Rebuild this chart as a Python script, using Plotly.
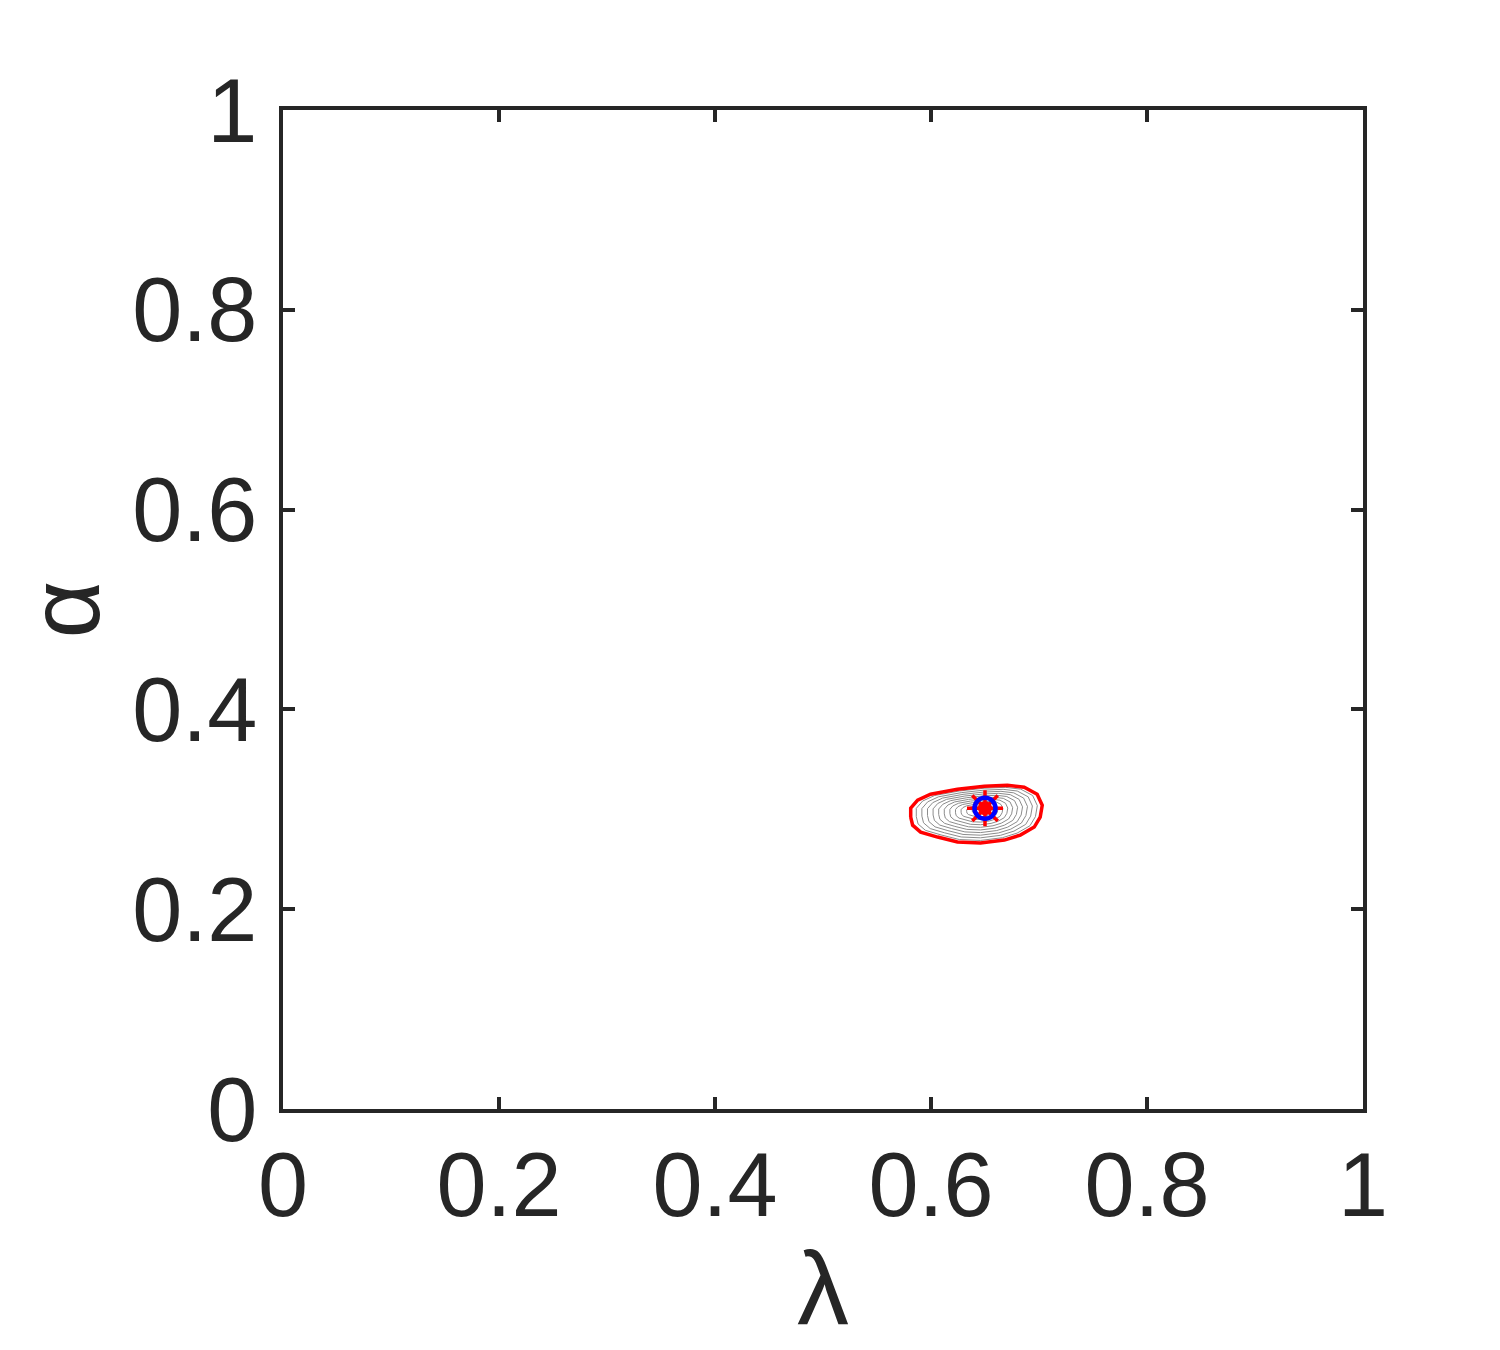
import plotly.graph_objects as go

# outer (red) contour, (lambda, alpha)
red_lam = [0.5812, 0.5812, 0.5876, 0.5996, 0.6245, 0.6494, 0.6707, 0.6863, 0.6983, 0.7030,
           0.7011, 0.6956, 0.6827, 0.6679, 0.6458, 0.6245, 0.6061, 0.5904, 0.5830, 0.5812]
red_alp = [0.2921, 0.3011, 0.3091, 0.3151, 0.3200, 0.3230, 0.3240, 0.3220, 0.3151, 0.3041,
           0.2921, 0.2822, 0.2742, 0.2692, 0.2662, 0.2672, 0.2722, 0.2772, 0.2841, 0.2921]

# inner grey contour levels, as fraction of the outer one around the peak
grey_center = (0.646, 0.299)
grey_scales = [0.92, 0.84, 0.76, 0.68, 0.60, 0.52, 0.44, 0.36, 0.28, 0.20, 0.12]

# estimate / true value marker
est_lam = [0.650]
est_alp = [0.301]

tick_vals = [0, 0.2, 0.4, 0.6, 0.8, 1]
tick_text = ['0', '0.2', '0.4', '0.6', '0.8', '1']

txt = '#262626'
fig = go.Figure()

for s in grey_scales:
    gx = [grey_center[0] + s * (x - grey_center[0]) for x in red_lam]
    gy = [grey_center[1] + s * (y - grey_center[1]) for y in red_alp]
    fig.add_trace(go.Scatter(x=gx, y=gy, mode='lines',
                             line=dict(color='#8c8c8c', width=1), showlegend=False))

fig.add_trace(go.Scatter(x=red_lam, y=red_alp, mode='lines',
                         line=dict(color='#ff0000', width=3.5), showlegend=False))

fig.add_trace(go.Scatter(x=est_lam, y=est_alp, mode='markers',
                         marker=dict(symbol='circle', size=14, color='#ff0000'), showlegend=False))
fig.add_trace(go.Scatter(x=est_lam, y=est_alp, mode='markers',
                         marker=dict(symbol='asterisk-open', size=30, color='#ff0000',
                                     line=dict(color='#ff0000', width=3.5)), showlegend=False))
fig.add_trace(go.Scatter(x=est_lam, y=est_alp, mode='markers',
                         marker=dict(symbol='circle-open', size=21, color='#0000ff',
                                     line=dict(color='#0000ff', width=4.5)), showlegend=False))

axis_common = dict(range=[0, 1], tickvals=tick_vals, ticktext=tick_text,
                   showgrid=False, zeroline=False, automargin=False,
                   showline=True, linecolor=txt, linewidth=3.5, mirror='ticks',
                   ticks='inside', ticklen=12, tickwidth=3.5, tickcolor=txt,
                   tickfont=dict(size=90, color=txt, family='Liberation Sans'))

fig.update_xaxes(**axis_common, ticklabelstandoff=-5,
                 title=dict(text='λ', font=dict(size=104, color=txt, family='Liberation Sans'), standoff=18))
fig.update_yaxes(**axis_common, ticklabelstandoff=4,
                 title=dict(text='α', font=dict(size=100, color=txt, family='Liberation Sans'), standoff=18))

fig.update_layout(width=1500, height=1350,
                  margin=dict(l=275, r=145, t=102, b=249),
                  plot_bgcolor='white', paper_bgcolor='white')

fig.write_html('out.html')
